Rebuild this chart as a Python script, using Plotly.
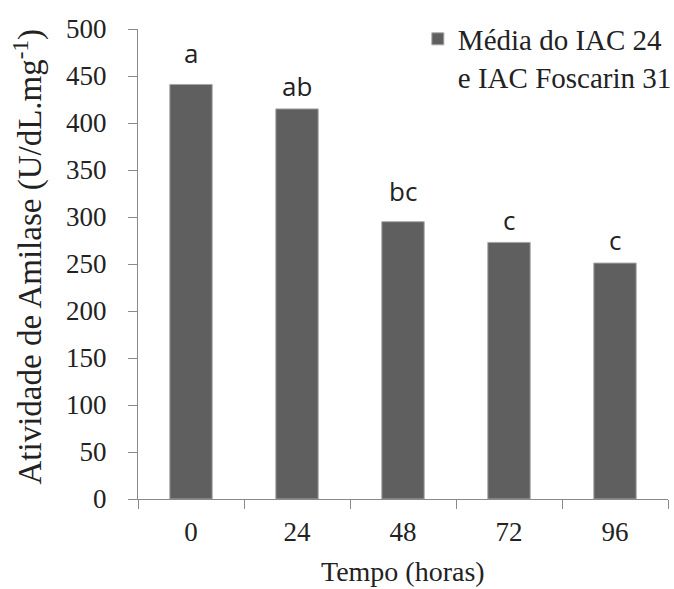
import plotly.graph_objects as go

categories = ["0", "24", "48", "72", "96"]
values = [441, 415, 295, 273, 251]
letters = ["a", "ab", "bc", "c", "c"]
letter_base = [463, 428, 316, 285, 264]
series_name = "Média do IAC 24<br>e IAC Foscarin 31"
x_title = "Tempo (horas)"
y_title = "Atividade de Amilase (U/dL.mg<sup>-1</sup>)"

serif = "Liberation Serif, Times New Roman, serif"
axis_col = "#8a8a8a"

fig = go.Figure()
fig.add_trace(go.Bar(
    x=categories, y=values, name=series_name,
    marker=dict(color="#5f5f5f", line=dict(color="#a8a8a8", width=1)),
    width=0.4, showlegend=True,
))

for i, (lb, t) in enumerate(zip(letter_base, letters)):
    fig.add_annotation(x=i, y=lb, text=t, showarrow=False, yanchor="bottom",
                       yshift=-9, font=dict(family="Open Sans", size=26, color="#222"))

# axis titles as paper-anchored annotations
fig.add_annotation(xref="paper", yref="paper", x=0.5, y=-0.155, text=x_title,
                   showarrow=False, xanchor="center", yanchor="middle",
                   font=dict(family=serif, size=28, color="#222"))
fig.add_annotation(xref="paper", yref="paper", x=-0.2075, y=0.516, text=y_title,
                   showarrow=False, xanchor="center", yanchor="middle", textangle=-90,
                   font=dict(family=serif, size=33, color="#222"))

fig.update_layout(
    width=674, height=589,
    margin=dict(l=138, r=6, t=29, b=90, autoexpand=False),
    plot_bgcolor="white", paper_bgcolor="white",
    font=dict(family=serif, color="#222"),
    showlegend=True,
    legend=dict(x=0.528, y=1.033, xanchor="left", yanchor="top",
                font=dict(family=serif, size=29, color="#222"),
                valign="top", bgcolor="rgba(0,0,0,0)", tracegroupgap=0),
    xaxis=dict(
        type="category", range=[-0.5, 4.5], showline=True, linecolor=axis_col, linewidth=1,
        ticks="outside", tickson="boundaries", ticklen=9, tickcolor=axis_col,
        tickfont=dict(family=serif, size=27, color="#222"), tickangle=0,
        ticklabelstandoff=9, automargin=False,
        showgrid=False, zeroline=False,
    ),
    yaxis=dict(
        range=[0, 500], dtick=50, tick0=0,
        showline=True, linecolor=axis_col, linewidth=1,
        ticks="outside", ticklen=9, tickcolor=axis_col,
        tickfont=dict(family=serif, size=27, color="#222"),
        ticklabelstandoff=16, automargin=False,
        showgrid=False, zeroline=False,
    ),
)

fig.write_html("out.html")
